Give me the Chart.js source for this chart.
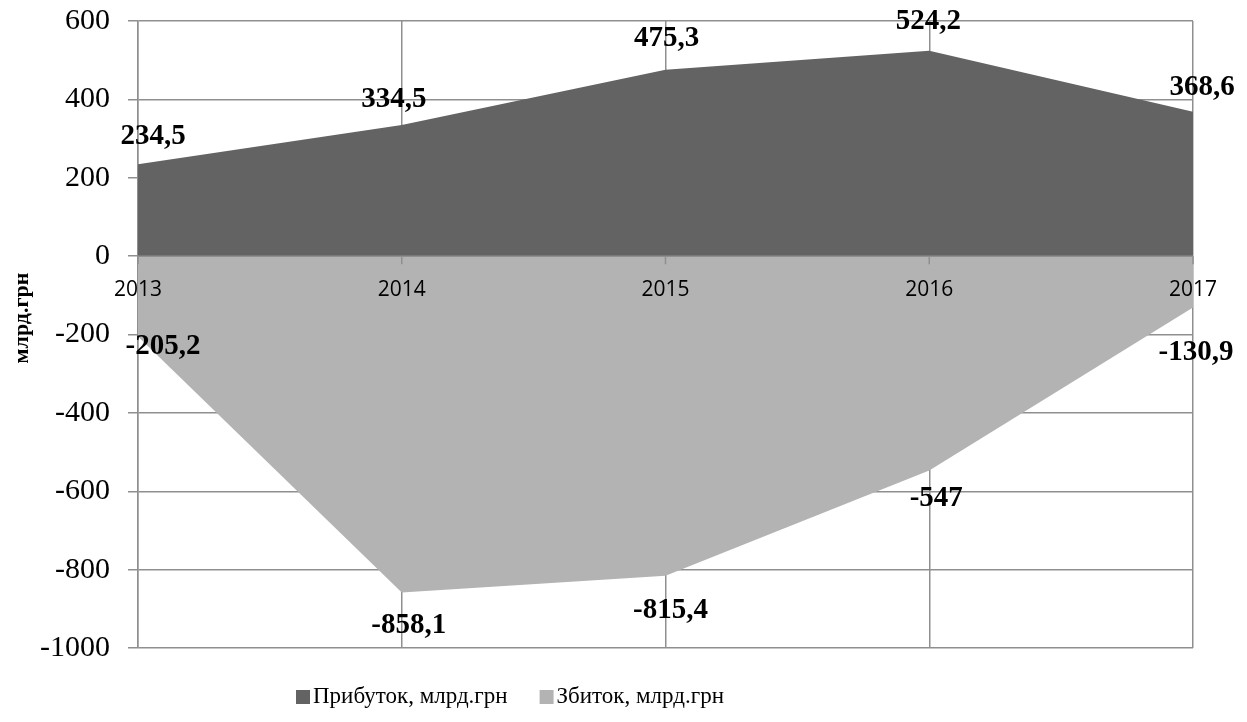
<!DOCTYPE html>
<html>
<head>
<meta charset="utf-8">
<script src="https://cdn.jsdelivr.net/npm/chart.js@4.4.0/dist/chart.umd.min.js"></script>
<style>
  html, body { margin: 0; padding: 0; background: #fff; }
  #wrap { width: 1247px; height: 722px; }
</style>
</head>
<body>
<div id="wrap"><canvas id="area-chart"></canvas></div>
<script>
var years = ["2013", "2014", "2015", "2016", "2017"];
var profit = [234.5, 334.5, 475.3, 524.2, 368.6];
var loss = [-205.2, -858.1, -815.4, -547, -130.9];
var yMin = -1000, yMax = 600, yStep = 200;

// label nudges in px from each point
var profitShift = [[15, -28], [-8, -26], [1, -31], [-1, -29], [9, -24]];
var lossShift = [[25, 10], [7, 33], [5, 35], [7, 28], [3, 45]];

var gridColor = "#8f8f8f";
var serif = "'Liberation Serif', 'Times New Roman', serif";

function fmt(v) {
	return String(v).replace(".", ",");
}

// zero axis, year labels and value labels go on top of the areas
var overlay = {
	id: "overlay",
	afterDatasetsDraw: function (chart) {
		var ctx = chart.ctx;
		var area = chart.chartArea;
		var x = chart.scales.x;
		var y0 = chart.scales.y.getPixelForValue(0);

		ctx.save();
		ctx.strokeStyle = gridColor;
		ctx.lineWidth = 1.5;
		ctx.beginPath();
		ctx.moveTo(area.left, y0);
		ctx.lineTo(area.right, y0);
		for (var i = 0; i < years.length; i++) {
			var px = x.getPixelForValue(i);
			ctx.moveTo(px, y0);
			ctx.lineTo(px, y0 + 8);
		}
		ctx.stroke();

		ctx.fillStyle = "#000";
		ctx.textAlign = "center";
		ctx.textBaseline = "middle";
		ctx.font = "21px 'Open Sans', sans-serif";
		for (var i = 0; i < years.length; i++) {
			ctx.fillText(years[i], x.getPixelForValue(i), y0 + 34);
		}

		ctx.font = "bold 29px " + serif;
		var sets = [[0, profit, profitShift], [1, loss, lossShift]];
		sets.forEach(function (s) {
			var meta = chart.getDatasetMeta(s[0]);
			meta.data.forEach(function (pt, i) {
				ctx.fillText(fmt(s[1][i]), pt.x + s[2][i][0], pt.y + s[2][i][1]);
			});
		});
		ctx.restore();
	},
	afterDraw: function (chart) {
		var ctx = chart.ctx;
		ctx.save();
		ctx.fillStyle = "#000";

		// axis title
		ctx.font = "bold 22px " + serif;
		ctx.textAlign = "center";
		ctx.textBaseline = "middle";
		ctx.translate(22, 318);
		ctx.rotate(-Math.PI / 2);
		ctx.fillText("млрд.грн", 0, 0);
		ctx.setTransform(1, 0, 0, 1, 0, 0);

		// legend row
		ctx.font = "23px " + serif;
		ctx.textAlign = "left";
		var lx = 296, ly = 697;
		chart.data.datasets.forEach(function (ds) {
			ctx.fillStyle = ds.backgroundColor;
			ctx.fillRect(lx, ly - 7, 14, 14);
			ctx.fillStyle = "#000";
			ctx.fillText(ds.label, lx + 17, ly);
			lx += 17 + ctx.measureText(ds.label).width + 32;
		});
		ctx.restore();
	}
};

var data = {
	labels: years,
	datasets: [
		{
			label: "Прибуток, млрд.грн",
			data: profit,
			backgroundColor: "#636363",
			borderWidth: 0,
			pointRadius: 0,
			fill: "origin"
		},
		{
			label: "Збиток, млрд.грн",
			data: loss,
			backgroundColor: "#b3b3b3",
			borderWidth: 0,
			pointRadius: 0,
			fill: "origin"
		}
	]
};

var options = {
	responsive: true,
	maintainAspectRatio: false,
	animation: false,
	layout: {
		padding: { top: 21, right: 54, bottom: 74, left: 0 }
	},
	scales: {
		x: {
			offset: false,
			ticks: { display: false },
			grid: { color: gridColor, lineWidth: 1.5, drawTicks: false },
			border: { display: false }
		},
		y: {
			min: yMin,
			max: yMax,
			ticks: {
				stepSize: yStep,
				color: "#000",
				padding: 18,
				font: { family: serif, size: 30 },
				callback: function (v) { return String(v); }
			},
			grid: { color: gridColor, lineWidth: 1.5, tickLength: 10 },
			border: { color: gridColor, width: 1.5 },
			afterFit: function (scale) {
				scale.width = 138;
				scale.paddingTop = 0;
				scale.paddingBottom = 0;
			}
		}
	},
	plugins: {
		legend: { display: false },
		tooltip: { enabled: false }
	}
};

new Chart(document.getElementById("area-chart"), {
	type: "line",
	data: data,
	options: options,
	plugins: [overlay]
});
</script>
</body>
</html>
